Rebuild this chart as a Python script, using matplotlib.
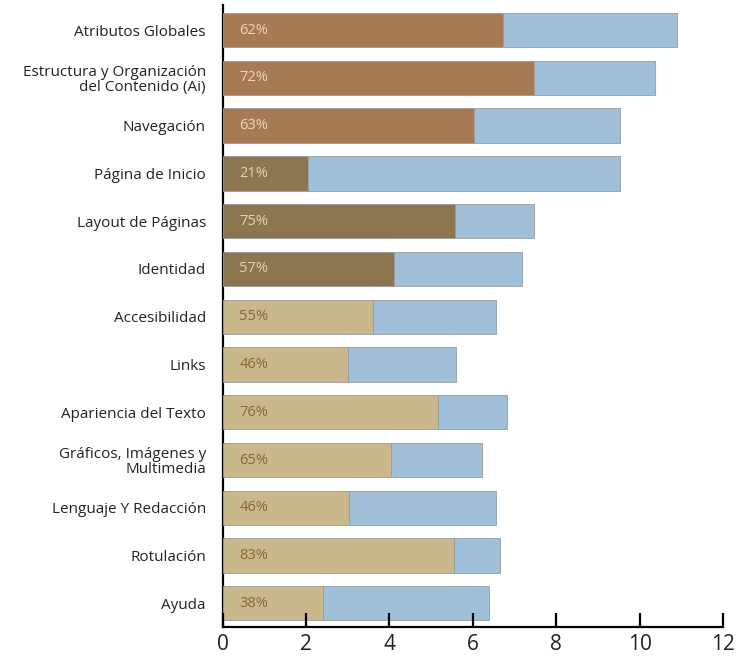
import matplotlib
matplotlib.use("Agg")
import matplotlib.pyplot as plt

plt.rcParams['font.family'] = ['Open Sans', 'DejaVu Sans']

categorias = ['Atributos Globales', 'Estructura y Organización\ndel Contenido (Ai)', 'Navegación',
              'Página de Inicio', 'Layout de Páginas', 'Identidad', 'Accesibilidad', 'Links',
              'Apariencia del Texto', 'Gráficos, Imágenes y\nMultimedia', 'Lenguaje Y Redacción',
              'Rotulación', 'Ayuda']
cumple = [6.73, 7.47, 6.03, 2.05, 5.58, 4.11, 3.61, 3.01, 5.17, 4.05, 3.04, 5.54, 2.40]
total = [10.89, 10.37, 9.54, 9.54, 7.47, 7.19, 6.56, 5.60, 6.81, 6.22, 6.56, 6.65, 6.39]
porcentajes = ['62%', '72%', '63%', '21%', '75%', '57%', '55%', '46%', '76%', '65%', '46%', '83%', '38%']
grupo = [0, 0, 0, 1, 1, 1, 2, 2, 2, 2, 2, 2, 2]

colores = ['#a57a55', '#8b7650', '#c9b88c']
color_texto = ['#ecd6b0', '#e6d2aa', '#8a6638']
azul = '#9fc0d8'

resto = [t - c for t, c in zip(total, cumple)]
pos = list(range(len(categorias)))[::-1]

fig = plt.figure(figsize=(7.37, 6.59), dpi=100)
ax = fig.add_axes([0.302, 0.049, 0.679, 0.943])

ax.barh(pos, cumple, height=0.72, color=[colores[g] for g in grupo],
        edgecolor='#9a9a9a', linewidth=0.6, zorder=2)
ax.barh(pos, resto, left=cumple, height=0.72, color=azul,
        edgecolor='#9a9a9a', linewidth=0.6, zorder=2)

for p, txt, g in zip(pos, porcentajes, grupo):
    ax.text(0.4, p, txt, ha='left', va='center', fontsize=10.5, color=color_texto[g], zorder=3)

ax.set_xlim(0, 12)
ax.set_ylim(-0.49, 12.52)
ax.set_xticks([0, 2, 4, 6, 8, 10, 12])
ax.set_yticks(pos)
ax.set_yticklabels(categorias, fontsize=11, linespacing=1.0, color='#222222')
ax.tick_params(axis='y', length=0, pad=12)
ax.tick_params(axis='x', direction='in', length=10, width=1.6, labelsize=15, pad=5,
               labelcolor='#222222')

for s in ['top', 'right']:
    ax.spines[s].set_visible(False)
ax.spines['left'].set_linewidth(1.6)
ax.spines['left'].set_zorder(0.5)
ax.spines['bottom'].set_linewidth(1.6)
ax.set_axisbelow(False)

fig.savefig('out.png', dpi=100)
